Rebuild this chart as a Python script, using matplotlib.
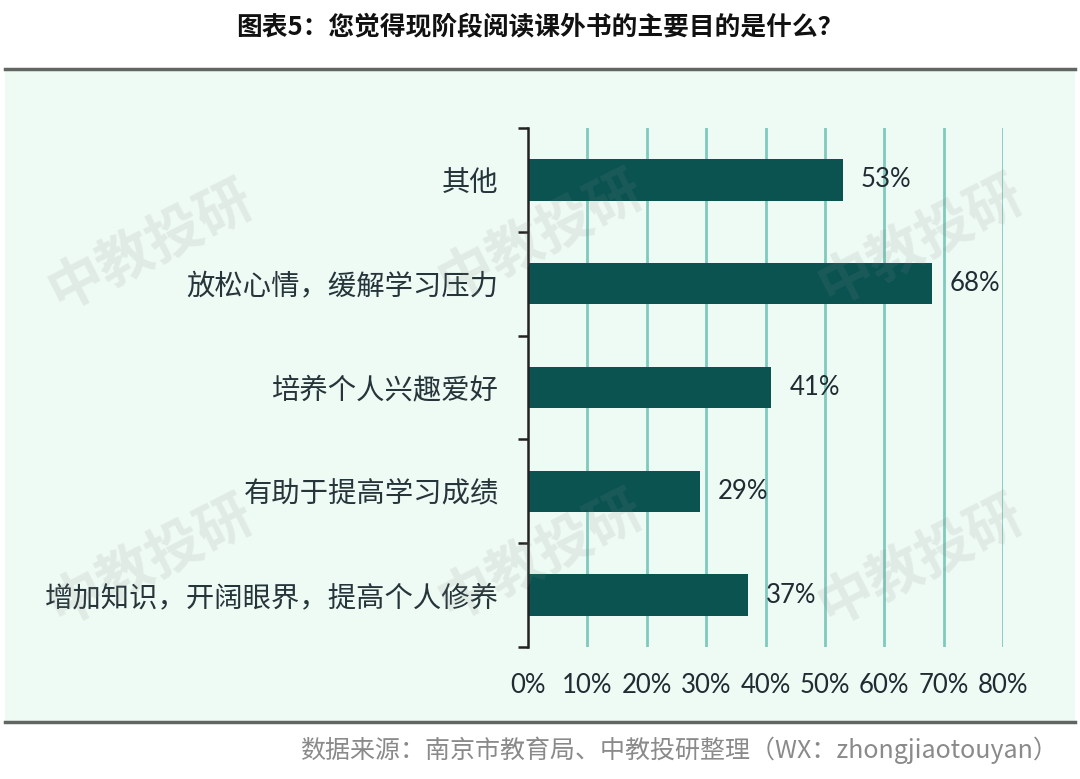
import matplotlib.pyplot as plt
from matplotlib.patches import Rectangle
from matplotlib.ticker import FixedLocator

plt.rcParams['font.family'] = ['Noto Sans CJK SC', 'DejaVu Sans']

# data (top to bottom)
categories = ['其他', '放松心情，缓解学习压力', '培养个人兴趣爱好',
              '有助于提高学习成绩', '增加知识，开阔眼界，提高个人修养']
values = [0.53, 0.68, 0.41, 0.29, 0.37]
xticks = [0, 0.1, 0.2, 0.3, 0.4, 0.5, 0.6, 0.7, 0.8]
xtick_labels = ['0%', '10%', '20%', '30%', '40%', '50%', '60%', '70%', '80%']

title = '图表5：您觉得现阶段阅读课外书的主要目的是什么？'
source = '数据来源：南京市教育局、中教投研整理（WX：zhongjiaotouyan）'

W, H = 1080, 779
fig = plt.figure(figsize=(W / 100, H / 100), dpi=100)

# panel background and rules
fig.add_artist(Rectangle((5 / W, 1 - 722 / H), 1070 / W, 652 / H,
                         transform=fig.transFigure, facecolor='#EEFAF4',
                         edgecolor='none', zorder=-5))
for yy in [69, 722]:
    fig.add_artist(plt.Line2D([5 / W, 1075 / W], [1 - yy / H, 1 - yy / H],
                              color='#626662', lw=2.5, transform=fig.transFigure))

fig.text(0.5, 1 - 28 / H, title, ha='center', va='center', fontsize=18.5,
         fontweight='bold', color='#111111')
fig.text(1058 / W, 1 - 750 / H, source, ha='right', va='center', fontsize=18,
         color='#8a8a8a')

ax = fig.add_axes([528 / W, 1 - 647 / H, (1003 - 528) / W, (647 - 128) / H])
ax.set_facecolor('none')
ax.set_zorder(2)

ypos = list(range(len(categories)))[::-1]
ax.barh(ypos, values, height=0.4, color='#0A5351', zorder=3)
for y, v in zip(ypos, values):
    ax.text(v + 0.03, y, f'{round(v * 100)}%', va='center', ha='left',
            fontsize=18.5, color='#1F2D33', family=['Lato', 'DejaVu Sans'])

ax.set_xlim(0, 0.8)
ax.set_ylim(-0.5, len(categories) - 0.5)
ax.set_xticks(xticks)
ax.set_xticklabels(xtick_labels, fontsize=18.5, color='#1F2D33',
                   family=['Lato', 'DejaVu Sans'])
ax.tick_params(axis='x', length=0, pad=19)
for x in xticks[1:]:
    ax.axvline(x, color='#7FC9BE', lw=2, zorder=1)

ax.set_yticks(ypos)
ax.set_yticklabels(categories, fontsize=20.4, color='#26353A', fontweight='light')
ax.tick_params(axis='y', which='major', length=0, pad=21)
ax.yaxis.set_minor_locator(FixedLocator([i - 0.5 for i in range(len(categories) + 1)]))
ax.tick_params(axis='y', which='minor', length=7, width=1.8, color='#222222')

for s in ['top', 'right', 'bottom']:
    ax.spines[s].set_visible(False)
ax.spines['left'].set_color('#222222')
ax.spines['left'].set_linewidth(1.8)
ax.spines['left'].set_zorder(4)

# watermarks
for (wx, wy) in [(150, 245), (540, 235), (920, 240), (150, 560), (540, 555), (920, 560)]:
    fig.text(wx / W, 1 - wy / H, '中教投研', ha='center', va='center', fontsize=40,
             fontweight='bold', color='#888888', alpha=0.13, rotation=27, zorder=10)

fig.savefig('out.png', dpi=100)
